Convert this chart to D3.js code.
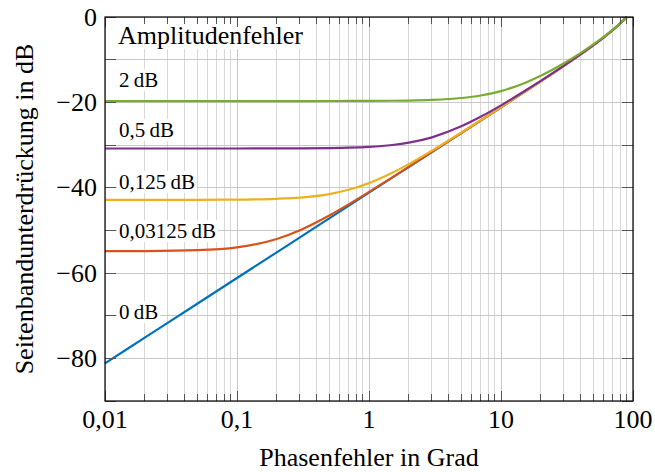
<!DOCTYPE html>
<html><head><meta charset="utf-8">
<script src="https://cdn.jsdelivr.net/npm/d3@7"></script>
<style>
html,body{margin:0;padding:0;background:#fff;}
text{font-family:"Liberation Serif","Times New Roman",serif;fill:#000;}
</style></head>
<body><svg id="c" width="655" height="472"></svg>
<script>
// Phase error in degrees
const phase = [0.01, 0.02, 0.05, 0.1, 0.2, 0.3, 0.5, 0.7, 1, 1.5, 2, 3, 5, 7, 10, 15, 20, 30, 40, 50, 60, 70, 80, 90];
// Sideband suppression in dB for each amplitude error
const sup0 = [-81.18, -75.16, -67.20, -61.18, -55.16, -51.64, -47.20, -44.28, -41.18, -37.66, -35.16, -31.64, -27.20, -24.27, -21.16, -17.61, -15.07, -11.44, -8.78, -6.63, -4.77, -3.10, -1.52, 0];
const sup03125 = [-54.89, -54.86, -54.65, -53.98, -52.02, -49.96, -46.52, -43.92, -41.00, -37.58, -35.12, -31.62, -27.19, -24.27, -21.16, -17.61, -15.07, -11.44, -8.78, -6.63, -4.77, -3.10, -1.52, 0];
const sup125 = [-42.86, -42.85, -42.84, -42.80, -42.61, -42.32, -41.50, -40.50, -38.93, -36.51, -34.48, -31.32, -27.08, -24.21, -21.13, -17.60, -15.07, -11.44, -8.78, -6.63, -4.77, -3.10, -1.52, 0];
const sup05 = [-30.82, -30.82, -30.82, -30.82, -30.80, -30.78, -30.72, -30.63, -30.44, -30.00, -29.46, -28.20, -25.63, -23.40, -20.72, -17.41, -14.96, -11.39, -8.75, -6.61, -4.76, -3.09, -1.52, 0];
const sup2 = [-19.70, -19.70, -19.70, -19.70, -19.70, -19.70, -19.69, -19.68, -19.67, -19.63, -19.58, -19.43, -18.99, -18.40, -17.36, -15.52, -13.79, -10.84, -8.45, -6.43, -4.65, -3.02, -1.49, 0];

const seriesNames = ["0\u2009dB", "0,03125\u2009dB", "0,125\u2009dB", "0,5\u2009dB", "2\u2009dB"];
const seriesValues = [sup0, sup03125, sup125, sup05, sup2];
const seriesColors = ["#0072BD", "#D95319", "#EDB120", "#7E2F8E", "#77AC30"];

const xTickValues = [0.01, 0.1, 1, 10, 100];
const xTickLabels = ["0,01", "0,1", "1", "10", "100"];
const yTickValues = [0, -20, -40, -60, -80];
const yTickLabels = ["0", "\u221220", "\u221240", "\u221260", "\u221280"];
const yGridValues = [0, -10, -20, -30, -40, -50, -60, -70, -80, -90];

const legendTitle = "Amplitudenfehler";
const xTitle = "Phasenfehler in Grad";
const yTitle = "Seitenbandunterdrückung in dB";

const L = 105, R = 633, T = 17, B = 401;
const svg = d3.select("#c");
const x = d3.scaleLog().domain([0.01, 100]).range([L, R]);
const y = d3.scaleLinear().domain([-90, 0]).range([B, T]);

// minor values
const minor = [];
for (let e = -2; e < 2; e++) for (let k = 2; k <= 9; k++) minor.push(k * Math.pow(10, e));

const grid = svg.append("g");
grid.selectAll("line.mv").data(minor).join("line")
  .attr("x1", d => x(d)).attr("x2", d => x(d)).attr("y1", T).attr("y2", B)
  .attr("stroke", "#d8d8d8").attr("stroke-width", 1).attr("shape-rendering", "crispEdges");
grid.selectAll("line.Mv").data(xTickValues).join("line")
  .attr("x1", d => x(d)).attr("x2", d => x(d)).attr("y1", T).attr("y2", B)
  .attr("stroke", "#c8c8c8").attr("stroke-width", 1).attr("shape-rendering", "crispEdges");
grid.selectAll("line.h").data(yGridValues).join("line")
  .attr("x1", L).attr("x2", R).attr("y1", d => y(d)).attr("y2", d => y(d))
  .attr("stroke", "#c8c8c8").attr("stroke-width", 1).attr("shape-rendering", "crispEdges");

// labels with white boxes (drawn under the curves)
function boxedText(tx, ty, str, size) {
  const g = svg.append("g");
  const r = g.append("rect").attr("fill", "#fff");
  const t = g.append("text").attr("x", tx).attr("y", ty).attr("font-size", size).text(str);
  const bb = t.node().getBBox();
  r.attr("x", bb.x - 2).attr("y", bb.y + 1).attr("width", bb.width + 4).attr("height", bb.height - 2);
}
boxedText(118, 44, legendTitle, 26);
const labelDb = [-70.8, -51.8, -40.3, -28.1, -16.4];
seriesNames.forEach((n, i) => boxedText(119, y(labelDb[i]), n, 21));

// curves
const line = d3.line().x(d => x(d[0])).y(d => y(d[1])).curve(d3.curveMonotoneX);
seriesValues.forEach((vals, i) => {
  svg.append("path")
    .datum(phase.map((p, j) => [p, vals[j]]))
    .attr("d", line).attr("fill", "none")
    .attr("stroke", seriesColors[i]).attr("stroke-width", 2.2)
    .attr("stroke-linejoin", "round");
});

// ticks (inside)
const tk = svg.append("g").attr("stroke", "#555").attr("stroke-width", 1).attr("shape-rendering", "crispEdges");
xTickValues.forEach(v => {
  tk.append("line").attr("x1", x(v)).attr("x2", x(v)).attr("y1", B).attr("y2", B - 10);
  tk.append("line").attr("x1", x(v)).attr("x2", x(v)).attr("y1", T).attr("y2", T + 10);
});
minor.forEach(v => {
  tk.append("line").attr("x1", x(v)).attr("x2", x(v)).attr("y1", B).attr("y2", B - 7);
  tk.append("line").attr("x1", x(v)).attr("x2", x(v)).attr("y1", T).attr("y2", T + 7);
});
yGridValues.forEach(v => {
  tk.append("line").attr("x1", L).attr("x2", L + 11).attr("y1", y(v)).attr("y2", y(v));
  tk.append("line").attr("x1", R).attr("x2", R - 11).attr("y1", y(v)).attr("y2", y(v));
});

// frame
svg.append("rect").attr("x", L).attr("y", T).attr("width", R - L).attr("height", B - T)
  .attr("fill", "none").attr("stroke", "#000").attr("stroke-width", 1.2);

// tick labels
svg.selectAll("text.xt").data(xTickValues).join("text")
  .attr("x", d => x(d)).attr("y", 428).attr("text-anchor", "middle").attr("font-size", 26)
  .text((d, i) => xTickLabels[i]);
svg.selectAll("text.yt").data(yTickValues).join("text")
  .attr("x", 97).attr("y", d => y(d) + 8.5).attr("text-anchor", "end").attr("font-size", 26)
  .text((d, i) => yTickLabels[i]);

// axis titles
svg.append("text").attr("x", (L + R) / 2).attr("y", 466).attr("text-anchor", "middle")
  .attr("font-size", 26).text(xTitle);
svg.append("text").attr("transform", `translate(33,${(T + B) / 2}) rotate(-90)`)
  .attr("text-anchor", "middle").attr("font-size", 26).text(yTitle);
</script></body></html>
